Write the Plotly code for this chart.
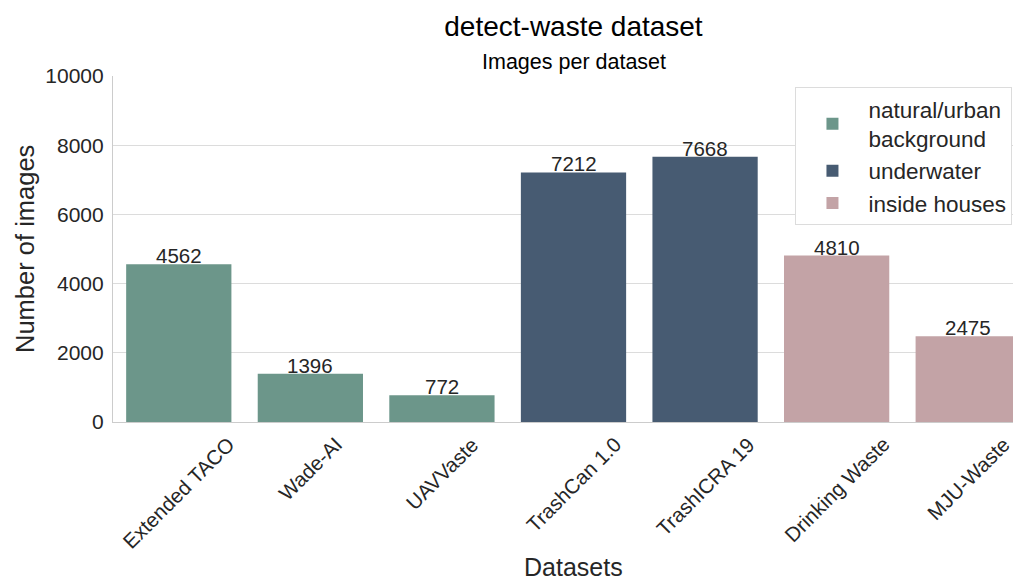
import plotly.graph_objects as go

categories = ["Extended TACO", "Wade-AI", "UAVVaste", "TrashCan 1.0", "TrashICRA 19", "Drinking Waste", "MJU-Waste"]
values = [4562, 1396, 772, 7212, 7668, 4810, 2475]
groups = ["natural/urban<br>background", "natural/urban<br>background", "natural/urban<br>background",
          "underwater", "underwater", "inside houses", "inside houses"]
group_order = ["natural/urban<br>background", "underwater", "inside houses"]
group_colors = {"natural/urban<br>background": "#6c968a", "underwater": "#475b72", "inside houses": "#c3a3a6"}
y_ticks = [0, 2000, 4000, 6000, 8000, 10000]

TXT = "#262626"
fig = go.Figure()
for g in group_order:
    xs = [c for c, gg in zip(categories, groups) if gg == g]
    ys = [v for v, gg in zip(values, groups) if gg == g]
    fig.add_trace(go.Bar(
        x=xs, y=ys, name=g, marker_color=group_colors[g],
        marker_line_width=0, width=0.8,
    ))

# value labels on top of bars
for c, v in zip(categories, values):
    fig.add_annotation(x=c, y=v, text=str(v), showarrow=False, yanchor="bottom",
                       yshift=-5, font=dict(size=20.5, color=TXT))

# rotated category labels (centered under each tick, like matplotlib ha='center')
for c in categories:
    fig.add_annotation(x=c, y=0, xref="x", yref="y", text=c, showarrow=False,
                       textangle=-45, xanchor="center", yanchor="top", yshift=-8,
                       font=dict(size=20.5, color=TXT))

# axis titles
fig.add_annotation(text="Datasets", x=0.5, xref="paper", y=0, yref="paper",
                   xanchor="center", yanchor="middle", yshift=-145, showarrow=False,
                   font=dict(size=25, color=TXT))
fig.add_annotation(text="Number of images", x=0, xref="paper", y=0.5, yref="paper",
                   xanchor="center", yanchor="middle", xshift=-88, textangle=-90, showarrow=False,
                   font=dict(size=25.5, color=TXT))
# subtitle
fig.add_annotation(text="Images per dataset", x=0.5, xref="paper", y=1.0, yref="paper",
                   yanchor="bottom", showarrow=False, yshift=0, font=dict(size=21.5, color="#000000"))

fig.update_layout(
    width=1030, height=573,
    margin=dict(l=105, r=4, t=68, b=159),
    paper_bgcolor="white", plot_bgcolor="white",
    font=dict(family="Liberation Sans, Arial, sans-serif", color=TXT),
    barmode="overlay",
    showlegend=True,
    legend=dict(x=0.741, y=0.968, xanchor="left", yanchor="top",
                bgcolor="white", bordercolor="#dcdcdc", borderwidth=1,
                font=dict(size=22.5, color=TXT), traceorder="normal",
                itemwidth=62),
    title=dict(text="detect-waste dataset", x=0.549, xanchor="center", y=0.968, yanchor="middle",
               font=dict(size=28, color="#000000")),
)

fig.update_xaxes(
    categoryorder="array", categoryarray=categories, range=[-0.5, 6.5],
    showticklabels=False,
    showline=True, linecolor="#cccccc", linewidth=1.2, showgrid=False, ticks="",
)
fig.update_yaxes(
    range=[0, 10000], tickvals=y_ticks, ticktext=[str(t) for t in y_ticks],
    tickfont=dict(size=21, color=TXT), ticklabelstandoff=4,
    showline=True, linecolor="#cccccc", linewidth=1.2, showgrid=True, gridcolor="#dcdcdc",
    gridwidth=1.2, zeroline=False, ticks="",
)

fig.write_html("out.html")
